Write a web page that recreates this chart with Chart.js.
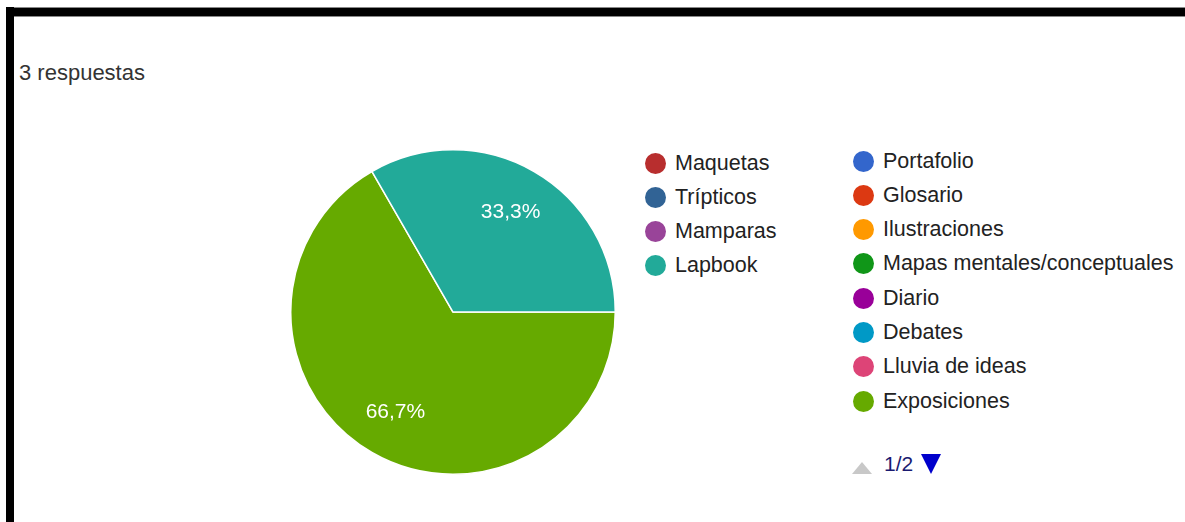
<!DOCTYPE html>
<html>
<head>
<meta charset="utf-8">
<script src="https://cdn.jsdelivr.net/npm/chart.js@4.4.1/dist/chart.umd.min.js"></script>
<style>
  html, body { margin: 0; padding: 0; background: #fff; }
  body { width: 1185px; height: 522px; position: relative; overflow: hidden;
         font-family: "Liberation Sans", Arial, sans-serif; }
  #frameTop { position: absolute; left: 6px; top: 7px; right: 0; height: 8px;
              background: #000; border-top: 1px solid #888; border-bottom: 1px solid #888; }
  #frameLeft { position: absolute; left: 6px; top: 7px; width: 8px; bottom: 0; background: #000; }
  #title { position: absolute; left: 19px; top: 60px; font-size: 22px; color: #333; line-height: 26px; }
  #pieBox { position: absolute; left: 290px; top: 149px; width: 326px; height: 326px; }
  .row { position: absolute; height: 24px; display: flex; align-items: center;
         font-size: 21.5px; color: #222; white-space: nowrap; }
  .dot { width: 21px; height: 21px; border-radius: 50%; margin-right: 9px; flex: none; }
  #pager { position: absolute; left: 852px; top: 452px; height: 24px; display: flex; align-items: center;
           font-size: 21px; color: #1a1a70; }
  .up { width: 0; height: 0; border-left: 10px solid transparent; border-right: 10px solid transparent;
        border-bottom: 12px solid #c8c8c8; margin-top: 8px; margin-right: 12px; }
  .down { width: 0; height: 0; border-left: 10px solid transparent; border-right: 10px solid transparent;
          border-top: 20px solid #0000cc; margin-left: 8px; }
</style>
</head>
<body>
<div id="frameTop"></div>
<div id="frameLeft"></div>
<div id="title">3 respuestas</div>
<div id="pieBox"><canvas id="pieChart"></canvas></div>
<div id="legend"></div>
<div id="pager"><span class="up"></span><span>1/2</span><span class="down"></span></div>

<script>
// --- DATA ---
const categories = [
  "Portafolio", "Glosario", "Ilustraciones", "Mapas mentales/conceptuales",
  "Diario", "Debates", "Lluvia de ideas", "Exposiciones",
  "Maquetas", "Trípticos", "Mamparas", "Lapbook"
];
const responses = [0, 0, 0, 0, 0, 0, 0, 2, 0, 0, 0, 1];
const colors = [
  "#3366cc", "#dc3912", "#ff9900", "#109618",
  "#990099", "#0099c6", "#dd4477", "#66aa00",
  "#b82e2e", "#316395", "#994499", "#22aa99"
];
const pageLabel = "1/2";

// --- LEGEND (HTML, two columns as in the form summary) ---
const legendEl = document.getElementById("legend");
function addRow(i, left, cy) {
  const row = document.createElement("div");
  row.className = "row";
  row.style.left = left + "px";
  row.style.top = (cy - 12) + "px";
  row.innerHTML = '<span class="dot" style="background:' + colors[i] + '"></span>' + categories[i];
  legendEl.appendChild(row);
}
// left column: last four categories
[8, 9, 10, 11].forEach((idx, k) => addRow(idx, 645, 163 + k * 34.3));
// right column: first eight categories
[0, 1, 2, 3, 4, 5, 6, 7].forEach((idx, k) => addRow(idx, 853, 161 + k * 34.3));
document.querySelector("#pager span:nth-child(2)").textContent = pageLabel;

// --- PERCENT LABELS PLUGIN ---
const sliceLabels = {
  id: "sliceLabels",
  afterDatasetsDraw(chart) {
    const ctx = chart.ctx;
    const meta = chart.getDatasetMeta(0);
    const total = responses.reduce((a, b) => a + b, 0);
    ctx.save();
    ctx.fillStyle = "#ffffff";
    ctx.font = '21px "Liberation Sans", Arial, sans-serif';
    ctx.textAlign = "center";
    ctx.textBaseline = "middle";
    meta.data.forEach((arc, i) => {
      const v = responses[i];
      if (!v) return;
      const p = arc.getProps(["x", "y", "startAngle", "endAngle", "outerRadius"], true);
      const mid = (p.startAngle + p.endAngle) / 2;
      const d = p.outerRadius * 0.71;
      const txt = (v / total * 100).toFixed(1).replace(".", ",") + "%";
      ctx.fillText(txt, p.x + Math.cos(mid) * d, p.y + Math.sin(mid) * d);
    });
    ctx.restore();
  }
};

// --- CHART ---
new Chart(document.getElementById("pieChart"), {
  type: "pie",
  data: {
    labels: categories,
    datasets: [{
      data: responses,
      backgroundColor: colors,
      borderColor: "#ffffff",
      borderWidth: 1.5,
      hoverOffset: 0
    }]
  },
  options: {
    responsive: true,
    maintainAspectRatio: false,
    animation: false,
    rotation: 90,
    layout: { padding: 0 },
    plugins: {
      legend: { display: false },
      tooltip: { enabled: false }
    }
  },
  plugins: [sliceLabels]
});
</script>
</body>
</html>
